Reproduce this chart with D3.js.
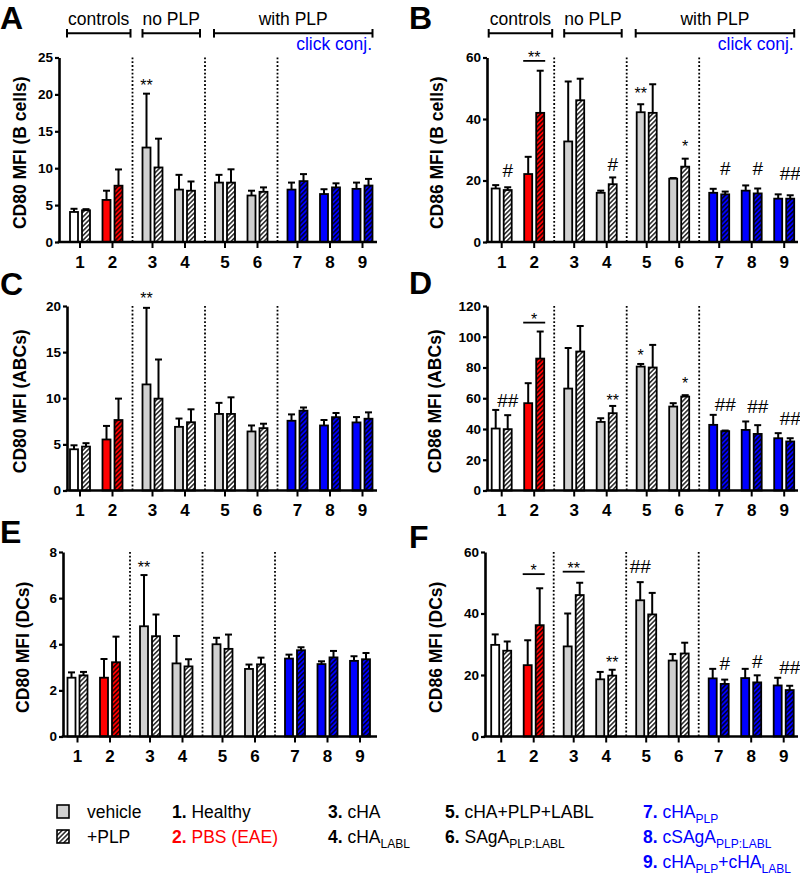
<!DOCTYPE html>
<html><head><meta charset="utf-8">
<script src="https://cdn.jsdelivr.net/npm/d3@7"></script>
<style>body{margin:0;background:#fff}svg{display:block;font-family:"Liberation Sans",Arial,Helvetica,sans-serif}</style>
</head><body><svg id="chart" width="800" height="876"></svg>
<script>
// ---------- data ----------
const categories = ["1","2","3","4","5","6","7","8","9"];
const groupKind  = ["healthy","pbs","plain","plain","plain","plain","click","click","click"];
const sections   = [0,0,1,1,2,2,3,3,3];
const headerLabels = ["controls","no PLP","with PLP"];

// A: CD80 MFI (B cells)
const aVehicle    = [4.07,5.7,12.8,7.1,8.05,6.3,7.1,6.5,7.2];
const aVehicleErr = [0.43,1.25,7.3,2.0,1.05,0.65,0.95,0.65,0.85];
const aPlp        = [4.3,7.63,10.1,6.95,8.05,6.8,8.25,7.4,7.65];
const aPlpErr     = [0.15,2.2,3.9,1.25,1.8,0.6,0.95,0.55,0.9];
const aTicks      = [0,5,10,15,20,25];
const aMarks      = [{g:3,bar:"v",text:"**",v:21.7}];
const aLinks      = [];

// B: CD86 MFI (B cells)
const bVehicle    = [17.4,22.1,32.7,16.0,42.2,20.6,16.0,16.7,14.1];
const bVehicleErr = [1.1,5.6,19.5,0.7,2.6,0.2,1.3,1.7,1.4];
const bPlp        = [16.9,42.0,46.1,18.8,42.0,24.5,15.5,15.8,14.1];
const bPlpErr     = [0.9,13.7,7.0,2.2,9.3,2.6,0.9,1.6,1.1];
const bTicks      = [0,20,40,60];
const bMarks      = [{g:1,bar:"p",text:"#",v:23.4},{g:4,bar:"p",text:"#",v:25.3},{g:5,bar:"v",text:"**",v:49.4},
                     {g:6,bar:"p",text:"*",v:32.1},{g:7,bar:"p",text:"#",v:23.9},{g:8,bar:"p",text:"#",v:23.9},
                     {g:9,bar:"p",text:"##",v:22.3}];
const bLinks      = [{g:2,text:"**",v:58.9}];

// C: CD80 MFI (ABCs)
const cVehicle    = [4.47,5.53,11.5,6.9,8.3,6.4,7.56,7.05,7.38];
const cVehicleErr = [0.43,1.47,8.3,0.9,1.2,0.65,0.69,0.59,0.58];
const cPlp        = [4.76,7.64,9.96,7.4,8.3,6.76,8.65,7.95,7.78];
const cPlpErr     = [0.37,2.32,4.24,1.4,1.8,0.48,0.35,0.45,0.69];
const cTicks      = [0,5,10,15,20];
const cMarks      = [{g:3,bar:"v",text:"**",v:21.2}];
const cLinks      = [];

// D: CD86 MFI (ABCs)
const dVehicle    = [40.3,56.8,66.3,44.6,80.6,54.6,42.7,39.4,34.0];
const dVehicleErr = [12.1,13.0,26.4,2.4,1.7,2.2,6.5,5.5,3.3];
const dPlp        = [39.9,85.8,90.4,50.3,80.0,61.1,38.6,36.8,31.9];
const dPlpErr     = [9.1,17.6,16.6,4.7,14.7,0.9,0.4,5.7,2.1];
const dTicks      = [0,20,40,60,80,100,120];
const dMarks      = [{g:1,bar:"p",text:"##",v:58.9},{g:4,bar:"p",text:"**",v:61.1},{g:5,bar:"v",text:"*",v:90.3},
                     {g:6,bar:"p",text:"*",v:71.9},{g:7,bar:"p",text:"##",v:56.3},{g:8,bar:"p",text:"##",v:54.6},
                     {g:9,bar:"p",text:"##",v:47}];
const dLinks      = [{g:2,text:"*",v:109.2}];

// E: CD80 MFI (DCs)
const eVehicle    = [2.55,2.55,4.78,3.17,4.0,2.93,3.38,3.14,3.28];
const eVehicleErr = [0.23,0.81,2.22,1.19,0.28,0.19,0.17,0.12,0.2];
const ePlp        = [2.65,3.22,4.35,3.04,3.8,3.13,3.74,3.43,3.35];
const ePlpErr     = [0.15,1.11,0.94,0.31,0.62,0.29,0.13,0.28,0.27];
const eTicks      = [0,2,4,6,8];
const eMarks      = [{g:3,bar:"v",text:"**",v:7.47}];
const eLinks      = [];

// F: CD86 MFI (DCs)
const fVehicle    = [29.8,23.2,29.3,18.6,44.3,24.7,18.9,19.0,16.6];
const fVehicleErr = [3.4,8.1,10.7,2.4,5.9,2.1,3.1,3.0,2.5];
const fPlp        = [27.9,36.2,46.0,19.8,39.7,27.0,17.1,17.6,15.1];
const fPlpErr     = [3.0,12.0,4.0,1.9,7.0,3.5,1.4,2.3,1.4];
const fTicks      = [0,20,40,60];
const fMarks      = [{g:4,bar:"p",text:"**",v:25.2},{g:5,bar:"v",text:"##",v:55.2},{g:7,bar:"p",text:"#",v:23.7},
                     {g:8,bar:"p",text:"#",v:24.5},{g:9,bar:"p",text:"##",v:22.5}];
const fLinks      = [{g:2,text:"*",v:52.8},{g:3,text:"**",v:53.6}];

// legend
const legendKeys = ["vehicle","+PLP"];

// ---------- layout ----------
const svg = d3.select("#chart");
const FONT = '"Liberation Sans",Arial,Helvetica,sans-serif';
const rowTop = [57.5, 306, 552];
const plotH = 184.5;
const colFirst = [80, 501.7];
const colAxisEnd = [377, 798];
const letterX = [0, 409];
const GAP = 0.2308;
const slotScale = d3.scaleLinear().domain([0, 8 + 3*GAP]).range([0, 282.5]);
const COLORS = {healthy:"#ffffff", pbs:"#ff0000", plain:"#d0d0d0", click:"#0000ff"};
const HATCH = {healthy:"url(#hW)", pbs:"url(#hR)", plain:"url(#hW)", click:"url(#hB)"};

const defs = svg.append("defs");
function hatch(id, bg){
  const p = defs.append("pattern").attr("id",id).attr("patternUnits","userSpaceOnUse")
    .attr("width",3.3).attr("height",3.3).attr("patternTransform","rotate(45)");
  p.append("rect").attr("width",3.3).attr("height",3.3).attr("fill",bg);
  p.append("line").attr("x1",0.8).attr("x2",0.8).attr("y1",0).attr("y2",3.3)
    .attr("stroke","#000").attr("stroke-width",1.3);
}
hatch("hW","#ffffff"); hatch("hR","#ff0000"); hatch("hB","#0000ff");

const panels = [
  {key:"A",col:0,row:0,veh:aVehicle,vehErr:aVehicleErr,plp:aPlp,plpErr:aPlpErr,ticks:aTicks,marks:aMarks,links:aLinks,
   title:"CD80 MFI (B cells)",axisX:59,titleX:25.5,shift:0,letterY:29,header:true},
  {key:"B",col:1,row:0,veh:bVehicle,vehErr:bVehicleErr,plp:bPlp,plpErr:bPlpErr,ticks:bTicks,marks:bMarks,links:bLinks,
   title:"CD86 MFI (B cells)",axisX:487,titleX:443,shift:0,letterY:29,header:true},
  {key:"C",col:0,row:1,veh:cVehicle,vehErr:cVehicleErr,plp:cPlp,plpErr:cPlpErr,ticks:cTicks,marks:cMarks,links:cLinks,
   title:"CD80 MFI (ABCs)",axisX:67,titleX:25.5,shift:0,letterY:295},
  {key:"D",col:1,row:1,veh:dVehicle,vehErr:dVehicleErr,plp:dPlp,plpErr:dPlpErr,ticks:dTicks,marks:dMarks,links:dLinks,
   title:"CD86 MFI (ABCs)",axisX:487,titleX:440.5,shift:0,letterY:294},
  {key:"E",col:0,row:2,veh:eVehicle,vehErr:eVehicleErr,plp:ePlp,plpErr:ePlpErr,ticks:eTicks,marks:eMarks,links:eLinks,
   title:"CD80 MFI (DCs)",axisX:63,titleX:28.5,shift:-2.5,letterY:543},
  {key:"F",col:1,row:2,veh:fVehicle,vehErr:fVehicleErr,plp:fPlp,plpErr:fPlpErr,ticks:fTicks,marks:fMarks,links:fLinks,
   title:"CD86 MFI (DCs)",axisX:485,titleX:442,shift:-0.5,letterY:548}
];

panels.forEach(P => {
  const g = svg.append("g");
  const top = rowTop[P.row], y0 = top + plotH;
  const yMax = d3.max(P.ticks);
  const y = d3.scaleLinear().domain([0, yMax]).range([y0, top]);
  const cx = i => colFirst[P.col] + P.shift + slotScale(i + sections[i]*GAP);
  const barX = (i, which) => cx(i) + (which === "v" ? -6 : 6);

  // panel letter
  g.append("text").attr("x", letterX[P.col]).attr("y", P.letterY).text(P.key)
    .attr("font-size", 32).attr("font-weight", "bold").attr("fill","#000");

  // dividers
  [1,3,5].forEach(i => {
    const x = (cx(i) + cx(i+1)) / 2;
    g.append("line").attr("x1",x).attr("x2",x).attr("y1",top).attr("y2",y0)
      .attr("stroke","#000").attr("stroke-width",1.8).attr("stroke-dasharray","1.8,2");
  });

  // bars
  const bars = [];
  categories.forEach((c, i) => {
    bars.push({i, which:"v", val:P.veh[i], err:P.vehErr[i], fill:COLORS[groupKind[i]]});
    bars.push({i, which:"p", val:P.plp[i], err:P.plpErr[i], fill:HATCH[groupKind[i]]});
  });
  const eb = g.append("g").attr("stroke","#000").attr("stroke-width",2);
  bars.forEach(b => {
    const x = barX(b.i, b.which);
    eb.append("line").attr("x1",x).attr("x2",x).attr("y1",y(b.val)).attr("y2",y(b.val + b.err));
    eb.append("line").attr("x1",x-3.5).attr("x2",x+3.5).attr("y1",y(b.val + b.err)).attr("y2",y(b.val + b.err));
  });
  g.append("g").selectAll("rect").data(bars).join("rect")
    .attr("x", b => barX(b.i, b.which) - 4)
    .attr("width", 8)
    .attr("y", b => y(b.val))
    .attr("height", b => y0 - y(b.val))
    .attr("fill", b => b.fill)
    .attr("stroke", "#000").attr("stroke-width", 1.8);

  // y axis
  const ya = g.append("g").attr("transform", `translate(${P.axisX},0)`)
    .call(d3.axisLeft(y).tickValues(P.ticks).tickSize(4).tickPadding(2).tickSizeOuter(0).tickFormat(d3.format("d")));
  ya.select(".domain").attr("stroke-width", 2.6);
  ya.selectAll(".tick line").attr("stroke-width", 2.2);
  ya.selectAll(".tick text").attr("font-size", 13.5).attr("font-weight", "bold").attr("font-family", FONT).attr("fill","#000");

  // x axis
  g.append("line").attr("x1", P.axisX - 1.3).attr("x2", colAxisEnd[P.col]).attr("y1", y0).attr("y2", y0)
    .attr("stroke", "#000").attr("stroke-width", 2.6);
  categories.forEach((c, i) => {
    g.append("line").attr("x1", cx(i)).attr("x2", cx(i)).attr("y1", y0).attr("y2", y0 + 6)
      .attr("stroke","#000").attr("stroke-width", 2);
    g.append("text").attr("x", cx(i)).attr("y", y0 + 25.5).attr("text-anchor","middle")
      .attr("font-size", 17).attr("font-weight","bold").text(c);
  });

  // y title
  g.append("text").attr("transform", `translate(${P.titleX},${top + plotH/2 + 3}) rotate(-90)`)
    .attr("text-anchor","middle").attr("font-size", 17.5).attr("font-weight","bold").text(P.title);

  // significance marks
  P.marks.forEach(m => {
    const fs = m.text[0] === "#" ? 19 : 16;
    const off = m.text[0] === "#" ? 0.35 : 0.575;
    g.append("text").attr("x", barX(m.g - 1, m.bar)).attr("y", y(m.v) + off*fs)
      .attr("text-anchor","middle").attr("font-size", fs).text(m.text);
  });
  P.links.forEach(m => {
    const c = cx(m.g - 1), ly = y(m.v);
    g.append("line").attr("x1", c - 11).attr("x2", c + 11).attr("y1", ly).attr("y2", ly)
      .attr("stroke","#000").attr("stroke-width", 1.8);
    g.append("text").attr("x", c).attr("y", ly - 7 + 0.575*16).attr("text-anchor","middle")
      .attr("font-size", 16).text(m.text);
  });

  // header brackets
  if (P.header) {
    const div1 = (cx(1)+cx(2))/2;
    const spans = [[cx(0)-13, div1-2],[cx(2)-10, cx(3)+15],[cx(4)-11, cx(8)+10]];
    spans.forEach((s, k) => {
      const hb = g.append("g").attr("stroke","#000").attr("stroke-width",2);
      hb.append("line").attr("x1",s[0]).attr("x2",s[1]).attr("y1",33.3).attr("y2",33.3);
      hb.append("line").attr("x1",s[0]).attr("x2",s[0]).attr("y1",29).attr("y2",37.6);
      hb.append("line").attr("x1",s[1]).attr("x2",s[1]).attr("y1",29).attr("y2",37.6);
      g.append("text").attr("x",(s[0]+s[1])/2).attr("y",25).attr("text-anchor","middle")
        .attr("font-size",17.5).text(headerLabels[k]);
    });
    g.append("text").attr("x", cx(8)+9.5).attr("y", 50).attr("text-anchor","end")
      .attr("font-size",17.5).attr("fill","#0000ff").text("click conj.");
  }
});

// ---------- legend ----------
const L = svg.append("g").attr("font-size", 17.5);
[["#d0d0d0",805],["url(#hW)",830]].forEach((s,k) => {
  L.append("rect").attr("x",57).attr("y",s[1]).attr("width",12).attr("height",13)
    .attr("fill",s[0]).attr("stroke","#000").attr("stroke-width",1.6);
  L.append("text").attr("x",87).attr("y",s[1]+13).text(legendKeys[k]);
});
function item(x, yb, num, parts, color){
  const t = L.append("text").attr("x",x).attr("y",yb).attr("fill",color);
  t.append("tspan").attr("font-weight","bold").text(num + " ");
  let sub = false;
  parts.forEach(p => {
    if (p.sub) {
      t.append("tspan").attr("font-size",12).attr("dy", 5).text(p.sub);
      sub = true;
    } else {
      t.append("tspan").attr("dy", sub ? -5 : 0).text(p.t);
      sub = false;
    }
  });
}
item(172, 818, "1.", [{t:"Healthy"}], "#000");
item(172, 843, "2.", [{t:"PBS (EAE)"}], "#ff0000");
item(328, 818, "3.", [{t:"cHA"}], "#000");
item(328, 843, "4.", [{t:"cHA"},{sub:"LABL"}], "#000");
item(445, 818, "5.", [{t:"cHA+PLP+LABL"}], "#000");
item(445, 843, "6.", [{t:"SAgA"},{sub:"PLP:LABL"}], "#000");
item(643, 818, "7.", [{t:"cHA"},{sub:"PLP"}], "#0000ff");
item(643, 843, "8.", [{t:"cSAgA"},{sub:"PLP:LABL"}], "#0000ff");
item(643, 868, "9.", [{t:"cHA"},{sub:"PLP"},{t:"+cHA"},{sub:"LABL"}], "#0000ff");
</script></body></html>
